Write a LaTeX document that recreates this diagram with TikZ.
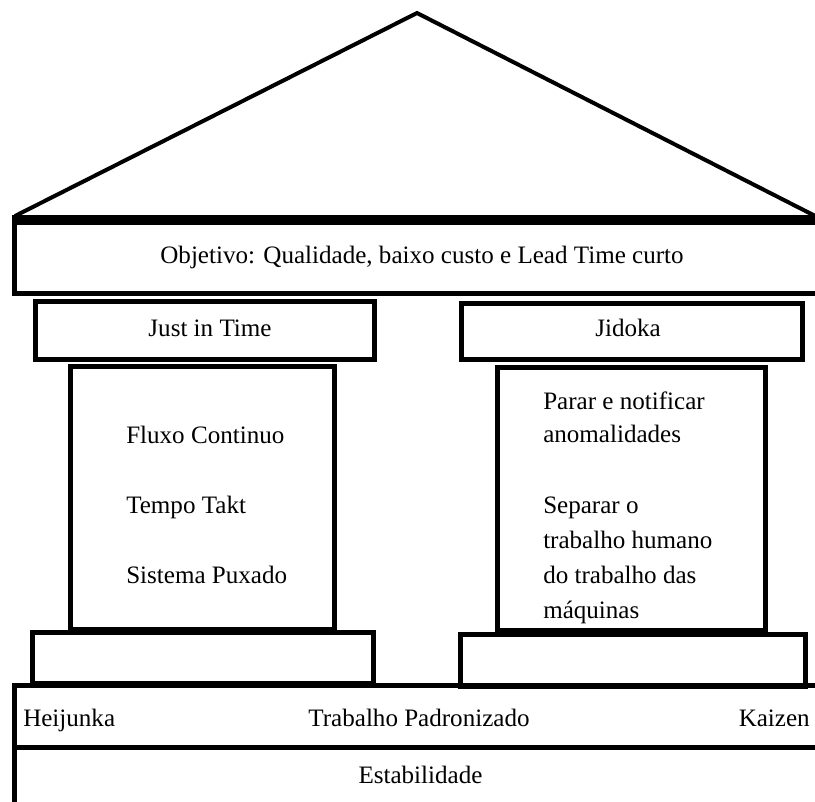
\documentclass[tikz,border=0pt]{standalone}
\usepackage{fontspec}
\setmainfont{Liberation Serif}
\usetikzlibrary{fit}
\begin{document}
\begin{tikzpicture}[x=0.75pt,y=-0.75pt,
  box/.style={draw, line width=3.75pt, rectangle, inner sep=0pt},
  roofline/.style={line width=3pt, line join=miter},
  lbl/.style={font=\fontsize{18.8}{26}\selectfont, inner sep=0pt, anchor=base},
  lblw/.style={lbl, anchor=base west},
  lble/.style={lbl, anchor=base east},
]
\useasboundingbox (0,0) rectangle (815,801);
\clip (0,0) rectangle (815,801);

% roof
\coordinate (eaveL) at (15,216);
\coordinate (apex) at (417,13);
\coordinate (eaveR) at (830,223.5);
\draw[roofline] (eaveL) -- (apex) -- (eaveR);

% goal beam
\node[box, fit={(14.5,220.5) (830,293.5)}] (goal) {};
\draw[line width=7.5pt] (12,220) -- (830,220);
\node[lbl] (goaltxt) at (422,263) {Objetivo: Qualidade, baixo custo e Lead Time curto};

% column heads
\node[box, fit={(35,301) (374,359)}] (jithead) {};
\node[lbl] (jittxt) at (210,336) {Just in Time};
\node[box, fit={(461.5,303.5) (802.5,359.5)}] (jidhead) {};
\node[lbl] (jidtxt) at (628,336) {Jidoka};

% left column
\node[box, fit={(70,366) (334.5,629)}] (jitcol) {};
\node[lblw] (jit1) at (126,443) {Fluxo Continuo};
\node[lblw] (jit2) at (126,513) {Tempo Takt};
\node[lblw] (jit3) at (126,583) {Sistema Puxado};

% right column
\node[box, fit={(497.5,367.5) (765,630)}] (jidcol) {};
\node[lblw] (jid1) at (543,409) {Parar e notificar};
\node[lblw] (jid2) at (543,442) {anomalidades};
\node[lblw] (jid3) at (543,513) {Separar o};
\node[lblw] (jid4) at (543,548) {trabalho humano};
\node[lblw] (jid5) at (543,583) {do trabalho das};
\node[lblw] (jid6) at (543,618) {máquinas};

% column bases
\node[box, fit={(32.5,632) (373.5,683)}] (jitbase) {};
\node[box, fit={(460.5,634.5) (805.5,686)}] (jidbase) {};

% foundation
\node[box, fit={(14.5,685.5) (830,747)}] (found) {};
\node[lblw] (heij) at (23,726) {Heijunka};
\node[lbl] (trab) at (419,726) {Trabalho Padronizado};
\node[lble] (kaiz) at (810,726) {Kaizen};
\node[box, fit={(14.5,747) (830,830)}] (stab) {};
\node[lbl] (stabtxt) at (420.5,783) {Estabilidade};
\end{tikzpicture}
\end{document}
